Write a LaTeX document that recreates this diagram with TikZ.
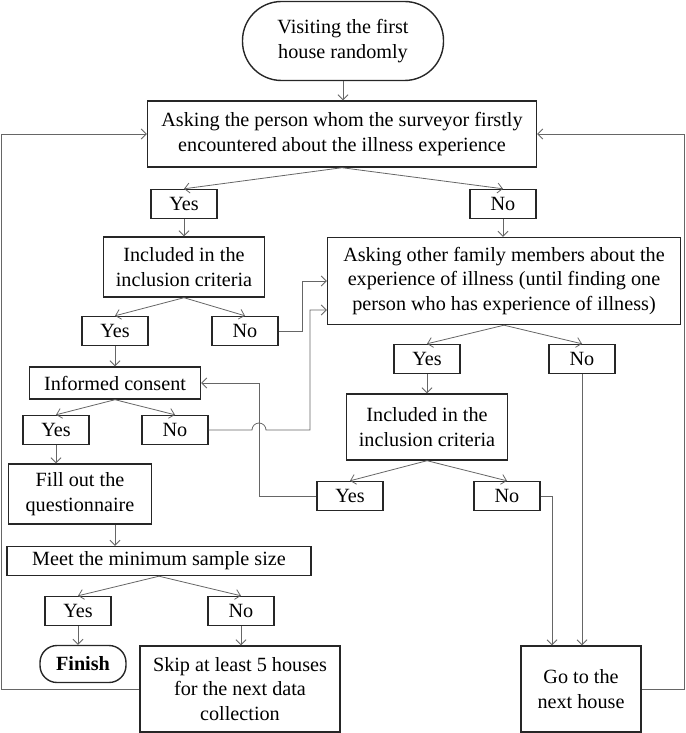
\documentclass[tikz,border=0pt]{standalone}
\usepackage{fontspec}
\setmainfont{Liberation Serif}
\usetikzlibrary{arrows.meta}
\usetikzlibrary{positioning}
\usetikzlibrary{calc}
\newcommand\boxfont{\fontsize{20.2}{24.5}\selectfont}
\tikzset{
  stepbox/.style={rectangle, draw=black!85, line width=1.4pt, align=center,
    inner sep=0pt, font=\boxfont},
  ans/.style={stepbox, minimum width=66pt, minimum height=29pt},
  term/.style={stepbox, rounded corners=#1},
}

\begin{document}
\begin{tikzpicture}[x=1pt, y=-1pt,
	conn/.style={draw=black!60, line width=0.8pt, -{Straight Barb[length=5pt,width=10pt]}},
	wire/.style={draw=black!60, line width=0.8pt}]
	\useasboundingbox (0,0) rectangle (685,733);

	% top
	\node[term=39pt, minimum width=201pt, minimum height=79pt] (start) at (343,41) {Visiting the first\\house randomly};
	\node[stepbox, minimum width=389pt, minimum height=66pt] (ask1) at (342,134) {Asking the person whom the surveyor firstly\\encountered about the illness experience};
	\node[ans] (yes1) at (184,204) {Yes};
	\node[ans] (no1) at (503,204) {No};

	% left branch
	\node[stepbox, minimum width=161pt, minimum height=60pt] (inc1) at (184,267) {Included in the\\inclusion criteria};
	\node[ans] (yes2) at (115,331) {Yes};
	\node[ans] (no2) at (245,331) {No};
	\node[stepbox, minimum width=171pt, minimum height=32pt] (cons) at (115,383) {Informed consent};
	\node[ans] (yes3) at (56,430) {Yes};
	\node[ans] (no3) at (175,430) {No};
	\node[stepbox, minimum width=143pt, minimum height=60pt] (fill) at (80,494) {Fill out the\\questionnaire};
	\node[stepbox, minimum width=304pt, minimum height=29pt] (meet) at (159,561) {Meet the minimum sample size};
	\node[ans] (yes5) at (78,611) {Yes};
	\node[ans] (no5) at (241,611) {No};
	\node[term=17pt, minimum width=86pt, minimum height=37pt, font=\boxfont\bfseries] (fin) at (83,664) {Finish};
	\node[stepbox, minimum width=200pt, minimum height=86pt] (skip) at (240,689) {Skip at least 5 houses\\for the next data\\collection};

	% right branch
	\node[stepbox, minimum width=353pt, minimum height=87pt] (ask2) at (504,281) {Asking other family members about the\\experience of illness (until finding one\\person who has experience of illness)};
	\node[ans] (yes4) at (427,359) {Yes};
	\node[ans] (no4) at (582,359) {No};
	\node[stepbox, minimum width=161pt, minimum height=66pt] (inc2) at (427,427) {Included in the\\inclusion criteria};
	\node[ans] (yes6) at (350,496) {Yes};
	\node[ans] (no6) at (507,496) {No};
	\node[stepbox, minimum width=120pt, minimum height=86pt] (go) at (581,689) {Go to the\\next house};

	% loop rails
	\coordinate (lft) at (1,0);
	\coordinate (rgt) at (684,0);

	% yes/no splits
	\foreach \a/\b in {ask1/yes1, ask1/no1, inc1/yes2, inc1/no2, cons/yes3, cons/no3,
		meet/yes5, meet/no5, ask2/yes4, ask2/no4, inc2/yes6, inc2/no6}
	\draw[conn] (\a.south) -- (\b.north);

	% straight down
	\foreach \a/\b in {start/ask1, yes1/inc1, no1/ask2, yes2/cons, yes3/fill,
		yes5/fin, no5/skip, yes4/inc2, no4/go}
	\draw[conn] (\a.south) -- (\a.south |- \b.north);
	\draw[conn] (fill.south -| yes2) -- (meet.north -| yes2);

	% back to asking other members
	\draw[conn] (no2.east) -- ++(24,0) |- (ask2.west);
	\draw[conn] (no3.east) -- (252,430) arc[start angle=180, end angle=0, radius=7pt]
		-- (310,430) |- ([yshift=-29pt]ask2.west);

	% included -> consent
	\draw[conn] (yes6.west) -- (259,496) |- (cons.east);

	% to next house
	\draw[conn] (no6.east) -| ([xshift=-29pt]go.north);

	% loops to the top
	\draw[conn] (skip.west) -- (skip.west -| lft) |- (ask1.west);
	\draw[conn] (go.east) -- (go.east -| rgt) |- (ask1.east);
\end{tikzpicture}
\end{document}
